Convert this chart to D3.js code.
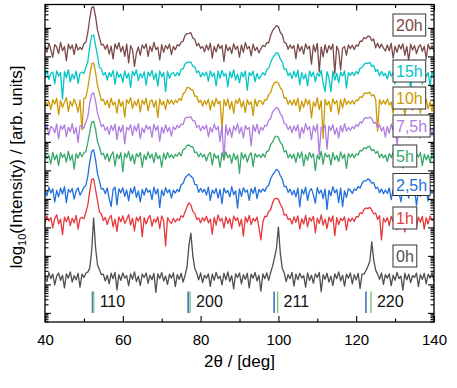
<!DOCTYPE html>
<html>
<head>
<meta charset="utf-8">
<script src="https://cdn.jsdelivr.net/npm/d3@7"></script>
<style>
body { margin: 0; background: #fff; }
text { font-family: Arial, "Liberation Sans", sans-serif; }
</style>
</head>
<body>
<div class="canvas"></div>
<script>
const w = 457, h = 388;
const margin = {top: 4.5, bottom: 66, left: 45, right: 23};

// 2theta grid, 0.5 deg step, 40..140
const twoTheta = d3.range(0, 201).map(i => 40 + i * 0.5);

// log10 intensity of each pattern (relative to its background)
const p0h = [
  0.08,-0.16,0.16,-0.06,0.10,-0.28,0.03,0.14,-0.12,0.06,-0.38,0.11,-0.04,0.18,-0.18,0.05,-0.10,0.13,-0.36,0.10,-0.02,0.14,
  0.17,0.31,0.92,2.07,1.02,0.43,0.25,0.08,0.10,
  -0.14,0.06,-0.24,0.13,-0.06,0.16,-0.45,0.08,-0.12,0.14,-0.04,0.05,-0.30,0.11,-0.08,0.18,-0.16,0.03,-0.30,0.10,-0.02,0.14,-0.22,0.06,-0.10,0.13,-0.54,0.11,-0.06,0.16,-0.14,0.03,-0.26,0.10,-0.04,0.14,-0.34,0.08,-0.08,0.13,-0.18,0.05,
  0.35,1.10,1.54,0.75,0.30,0.14,
  -0.10,0.14,-0.20,0.06,-0.04,0.11,-0.33,0.10,-0.12,0.16,-0.06,0.03,-0.28,0.13,-0.10,0.18,-0.16,0.05,-0.42,0.11,-0.02,0.14,-0.24,0.08,-0.08,0.13,-0.38,0.10,-0.04,0.16,-0.14,0.06,-0.50,0.11,-0.06,0.14,-0.12,
  0.15,0.38,0.67,1.00,1.75,0.82,0.30,0.14,
  -0.16,0.08,-0.06,0.16,-0.32,0.10,-0.10,0.13,-0.04,0.05,-0.36,0.14,-0.12,0.06,-0.22,0.11,-0.02,0.16,-0.52,0.08,-0.08,0.13,-0.18,0.03,-0.30,0.11,-0.06,0.18,-0.14,0.06,-0.32,0.10,-0.04,0.14,-0.24,0.08,-0.10,0.13,-0.40,0.10,
  0.10,0.22,0.37,0.55,1.23,0.60,0.24,0.10,
  -0.08,0.14,-0.26,0.08,-0.04,0.11,-0.30,0.06,-0.12,0.16,-0.06,0.03,-0.46,0.13,-0.10,0.10,-0.20,0.05,-0.02,0.14,-0.34,0.08,-0.08,0.13,-0.24,0.10,-0.04,0.16,-0.16
];
const p1h = [
  -0.12,0.14,-0.04,0.08,-0.28,0.05,0.18,-0.14,0.03,-0.52,0.10,-0.06,0.13,-0.20,0.06,-0.10,0.16,-0.32,0.05,
  0.09,0.04,0.27,0.52,1.00,1.42,1.44,1.06,0.68,0.28,0.21,-0.02,0.09,
  -0.16,0.06,0.16,-0.24,0.03,-0.40,0.11,-0.06,0.14,-0.12,0.02,0.19,-0.18,0.06,-0.38,0.10,-0.04,0.13,-0.59,0.08,-0.14,0.05,0.16,-0.22,0.03,-0.08,0.11,-0.30,0.14,-0.02,-0.91,0.08,-0.04,-0.12,
  0.06,-0.07,0.04,-0.02,0.15,0.10,0.28,0.46,0.60,0.53,0.30,0.23,0.02,0.07,-0.10,0.08,-0.04,
  0.13,-0.10,0.03,-0.50,0.10,-0.18,0.18,-0.04,0.06,-0.28,0.11,-0.12,0.05,-0.30,0.14,-0.02,0.08,-0.22,0.03,-0.57,0.11,-0.08,0.16,-0.16,0.05,-0.04,0.10,-0.26,
  -0.70,-0.07,0.13,0.12,0.30,0.36,0.60,0.74,0.76,0.73,0.55,0.44,0.17,0.20,0.02,0.05,-0.14,
  0.11,-0.08,0.14,-0.32,0.05,-0.14,0.16,-0.24,0.08,-0.04,0.13,-0.45,0.06,-0.12,0.18,-0.18,0.03,-0.30,0.10,-0.06,0.14,-0.55,0.08,-0.16,0.05,-0.02,0.11,-0.36,0.06,
  -0.05,0.07,-0.05,0.12,0.10,0.25,0.22,0.37,0.42,0.40,0.44,0.35,0.21,0.24,0.02,0.15,-0.70,0.06,-0.07,
  0.08,-0.20,0.13,-0.06,0.03,-0.34,0.14,-0.12,0.06,-0.42,0.11,-0.04,0.16,-0.18,0.05,-0.26,0.10,-0.08,0.13,-0.32,0.08,-0.14,0.14,-0.02,0.06
];
const p2_5h = [
  0.06,-0.14,0.16,-0.04,0.10,-0.36,0.05,-0.18,0.13,-0.08,0.18,-0.38,0.08,-0.02,0.11,-0.26,0.03,0.14,-0.12,
  0.01,0.16,0.22,0.54,1.04,1.41,1.47,1.12,0.63,0.37,0.09,0.11,-0.07,
  0.13,-0.24,-0.52,0.08,0.16,-0.46,0.10,-0.04,0.14,-0.16,0.06,-0.32,0.11,-0.06,0.18,-0.20,0.03,-0.36,0.08,-0.12,0.13,-0.02,0.05,-0.28,0.16,-0.08,0.10,-0.55,0.06,-0.14,0.14,-0.04,0.08,-0.22,
  0.06,-0.05,0.08,0.01,0.25,0.29,0.48,0.56,0.62,0.54,0.49,0.26,0.25,-0.02,0.12,-0.02,0.09,
  -0.12,0.16,-0.30,0.06,-0.06,0.11,-0.22,0.08,-0.42,0.13,-0.04,0.05,-0.18,0.18,-0.10,0.03,-0.57,0.10,-0.16,0.14,-0.02,0.06,-0.30,0.11,-0.06,0.16,-0.24,0.08,
  -0.02,0.10,0.01,0.17,0.23,0.45,0.59,0.68,0.79,0.74,0.56,0.44,0.18,0.19,-0.02,0.09,-0.11,
  0.05,-0.18,0.13,-0.53,0.08,-0.08,0.16,-0.30,0.03,0.11,-0.12,-0.40,0.14,-0.06,0.06,-0.24,0.10,-0.62,0.05,-0.14,0.18,-0.04,0.08,-0.38,0.13,-0.52,0.03,-0.20,0.11,
  0.05,-0.06,0.10,0.05,0.18,0.13,0.29,0.38,0.38,0.45,0.41,0.30,0.32,0.12,0.16,-0.04,0.10,-0.07,0.06,
  -0.06,0.13,-0.28,0.08,-0.12,0.16,-0.04,-0.35,0.11,-0.08,0.05,-0.22,0.14,-0.02,0.10,-0.48,0.06,-0.16,0.16,-0.10,0.03,-0.32,0.11,-0.06,0.08
];
const p5h = [
  0.11,-0.08,0.03,-0.26,0.14,-0.12,0.06,-0.32,0.13,-0.04,0.08,-0.20,0.18,-0.14,0.05,-0.45,0.10,-0.06,0.14,
  -0.01,0.13,0.17,0.48,0.84,1.20,1.23,0.95,0.51,0.33,0.06,0.11,-0.10,
  0.10,-0.18,0.05,0.16,-0.34,0.08,-0.08,0.13,-0.54,0.11,-0.04,0.18,-0.16,0.06,-0.26,0.10,-0.02,0.14,-0.38,0.05,-0.12,0.16,-0.06,0.08,-0.22,0.13,-0.08,0.03,-0.38,0.11,-0.10,0.14,-0.04,0.06,
  -0.06,0.07,0.01,0.13,0.02,0.24,0.27,0.39,0.40,0.34,0.34,0.14,0.15,-0.02,0.11,-0.02,0.07,
  -0.16,0.06,0.14,-0.30,0.10,-0.06,0.03,-0.39,0.13,-0.10,0.16,-0.04,0.06,-0.24,0.11,-0.12,0.05,-0.59,0.14,-0.08,0.08,-0.20,0.03,0.13,-0.36,0.10,-0.02,0.06,
  -0.04,0.09,-0.03,0.17,0.20,0.41,0.50,0.66,0.71,0.67,0.49,0.41,0.16,0.20,-0.05,0.07,-0.06,
  0.08,-0.22,0.13,-0.06,0.16,-0.33,0.06,-0.14,0.14,-0.04,0.10,-0.50,0.05,-0.10,0.18,-0.28,0.11,-0.02,0.06,-0.30,0.13,-0.12,0.03,-0.18,0.16,-0.08,0.08,-0.42,0.10,
  -0.03,0.09,-0.05,0.09,0.05,0.21,0.19,0.30,0.27,0.34,0.35,0.20,0.24,0.11,0.18,-0.04,0.08,-0.05,0.05,
  -0.18,0.10,-0.04,0.16,-0.32,0.06,-0.10,0.13,-0.40,0.11,-0.06,0.18,-0.16,0.03,-0.26,0.10,-0.02,0.14,-0.32,0.08,-0.12,0.05,-0.22,0.13,-0.08
];
const p7_5h = [
  -0.06,0.13,-0.22,0.08,0.03,-0.14,0.16,-0.36,0.10,-0.02,0.14,-0.28,0.06,-0.10,0.18,-0.18,0.05,-0.48,0.11,
  0.09,0.02,0.24,0.42,0.90,1.21,1.26,0.97,0.54,0.33,0.08,0.14,-0.06,
  0.06,-0.20,0.11,-0.06,0.16,-0.38,0.08,-0.12,0.13,-0.53,0.05,-0.04,0.14,-0.24,0.10,-0.08,0.18,-0.35,0.03,-0.14,0.13,-0.02,0.08,-0.30,0.16,-0.06,0.10,-0.44,0.06,-0.16,0.14,-0.10,0.05,-0.26,
  0.07,-0.03,0.12,0.04,0.16,0.15,0.37,0.40,0.40,0.42,0.28,0.28,0.05,0.12,-0.07,0.09,-0.02,
  0.13,-0.28,0.05,-0.12,0.16,-0.04,0.08,-0.45,0.11,-1.10,0.14,-0.22,0.03,-0.30,0.10,-0.06,0.18,-0.16,0.06,-0.32,0.11,-0.02,0.05,-0.60,0.13,-0.10,0.16,-0.18,
  0.05,-0.05,0.12,0.10,0.30,0.36,0.59,0.67,0.75,0.70,0.52,0.43,0.17,0.16,-0.03,0.09,-0.13,
  0.10,-0.08,0.14,-0.34,0.05,-0.16,0.18,-0.04,0.08,-0.39,0.11,-0.10,0.16,-0.91,0.06,-0.02,0.13,-0.72,0.10,-0.06,0.14,-0.20,0.03,-0.32,0.11,-0.12,0.18,-0.08,0.05,
  -0.06,0.07,0.00,0.15,0.09,0.24,0.20,0.35,0.39,0.37,0.41,0.35,0.19,0.23,0.03,0.14,-0.08,0.06,-0.29,
  0.08,-0.16,0.16,-0.06,0.06,-0.57,0.11,-0.12,0.14,-0.02,0.05,-0.30,0.13,-0.08,0.18,-0.20,0.03,-0.33,0.10,-0.10,0.14,-0.04,0.06,-0.24,0.11
];
const p10h = [
  0.14,-0.10,0.05,-0.24,0.11,-0.04,0.16,-0.42,0.08,-0.16,0.03,0.18,-0.30,0.06,-0.12,0.13,-0.06,-0.33,0.10,
  -0.95,0.16,0.18,0.52,0.96,1.37,1.40,1.07,0.60,0.35,0.08,0.12,-0.07,
  0.08,-0.18,0.16,-0.08,0.03,-0.36,0.13,-0.12,0.05,-0.50,0.11,-0.02,0.18,-0.20,0.06,-0.10,0.14,-0.32,0.10,-0.06,0.16,-0.28,0.03,0.11,-0.16,0.08,-0.52,0.14,-0.08,0.05,-0.24,0.13,-0.04,0.10,
  -0.05,0.09,0.01,0.15,0.08,0.31,0.38,0.53,0.54,0.46,0.45,0.23,0.23,0.02,0.09,-0.11,0.08,
  -0.06,0.13,-0.26,0.08,-0.12,0.16,-0.04,0.06,-0.91,0.11,-0.10,0.14,-0.22,0.05,-0.36,0.10,-0.02,0.16,-0.16,0.06,-0.34,0.11,-0.06,0.03,-0.45,0.13,-0.12,0.08,
  0.06,-0.06,0.11,0.10,0.30,0.36,0.58,0.71,0.73,0.70,0.52,0.44,0.17,0.17,-0.05,0.09,-0.09,
  0.11,-0.10,0.16,-0.30,0.06,-0.16,0.14,-0.06,0.10,-0.53,0.03,-0.12,0.18,-0.24,0.08,-1.25,0.13,-0.08,0.05,-0.32,0.14,-0.04,0.08,-0.40,0.11,-0.18,0.16,-0.06,0.06,
  -0.04,0.08,-0.04,0.10,0.08,0.21,0.19,0.32,0.35,0.33,0.37,0.24,0.29,0.12,-1.00,0.11,-0.05,0.09,-0.05,
  0.13,-0.08,0.03,-0.38,0.16,-0.12,0.08,-0.22,0.05,-0.46,0.11,-0.04,0.14,-0.26,0.06,-0.10,0.18,-0.36,0.10,-0.06,0.13,-0.20,0.03,-0.30,0.11
];
const p15h = [
  -0.08,0.16,-0.16,0.05,0.10,-0.32,0.14,-0.04,0.08,-0.85,0.11,-0.10,0.18,-0.24,0.03,-0.14,0.13,-0.30,0.06,
  0.10,0.05,0.25,0.46,1.00,1.37,1.40,1.03,0.67,0.26,0.21,-0.01,0.08,
  -0.18,0.08,-0.06,0.16,-0.33,0.11,-0.08,0.03,-0.26,0.14,-0.12,0.06,-0.45,0.13,-0.02,0.18,-0.20,0.05,-0.10,0.11,-0.36,0.10,-0.04,0.16,-0.16,0.06,-0.39,0.14,-0.06,0.08,-0.59,0.13,-0.12,0.05,
  0.08,-0.04,0.08,-0.02,0.20,0.21,0.38,0.44,0.45,0.45,0.30,0.28,0.07,0.14,-0.07,0.07,-0.03,
  0.10,-0.22,0.14,-0.06,0.06,-0.38,0.13,-0.12,0.16,-0.04,0.05,-0.42,0.11,-0.10,0.18,-0.18,0.03,-0.28,0.10,-0.08,0.14,-0.54,0.08,-0.02,0.13,-0.24,0.05,-0.14,
  -0.04,0.08,-0.01,0.18,0.23,0.43,0.60,0.69,0.78,0.74,0.55,0.45,0.19,0.21,-0.03,0.07,-0.13,
  0.13,-0.08,0.16,-0.34,0.08,-0.14,0.03,-0.39,0.14,-0.06,0.10,-0.24,0.06,-0.04,0.16,-0.30,-0.59,0.11,-0.10,-0.59,0.13,-0.18,0.05,-0.28,0.10,-0.04,0.14,-0.46,0.08,
  -0.02,0.09,-0.02,0.12,0.04,0.24,0.25,0.37,0.41,0.40,0.44,0.30,0.33,0.12,0.18,-0.03,0.12,-0.03,0.05,
  -0.14,0.14,-0.04,0.08,-0.32,0.13,-0.10,0.05,-0.24,0.16,-0.02,0.10,-0.51,0.11,-0.08,0.14,-0.18,0.03,-0.32,0.13,-0.06,0.08,-0.39,0.11,-0.12
];
const p20h = [
  0.08,-0.16,0.16,-0.06,-0.33,0.11,0.03,-0.20,0.19,-0.10,0.05,-0.45,0.13,-0.04,0.10,-0.24,0.14,-0.08,0.02,
  -0.06,0.15,0.19,0.53,1.03,1.41,1.44,1.10,0.62,0.36,0.10,0.12,-0.05,
  0.11,-0.22,0.06,-0.39,0.14,-0.04,0.18,-0.14,0.05,-0.30,0.13,-0.53,0.08,-0.08,-0.65,-0.18,0.03,-0.26,0.10,-0.02,0.14,-0.30,0.06,-0.12,0.19,-0.06,0.02,-0.42,0.11,-0.16,0.08,-0.04,0.13,-0.24,
  0.05,-0.07,0.11,0.07,0.19,0.23,0.43,0.50,0.51,0.53,0.34,0.30,0.07,0.15,-0.02,0.05,-0.14,
  0.10,-0.08,0.16,-0.36,0.05,-0.14,0.13,-0.02,0.08,-0.48,0.11,-0.10,0.03,-0.20,0.14,-0.06,0.06,-0.33,0.10,-0.16,0.18,-0.04,0.05,-0.28,0.13,-0.10,0.02,-0.18,
  -0.03,0.09,0.04,0.18,0.17,0.43,0.60,0.69,0.78,0.74,0.54,0.45,0.19,0.16,-0.05,0.10,-0.02,
  0.08,-0.38,0.13,-0.12,0.05,-0.22,0.14,-0.04,0.06,-0.57,0.10,-0.14,0.16,-0.85,0.03,-0.32,0.11,-0.18,0.08,-0.06,0.13,-0.91,0.06,-0.12,-0.78,-0.02,0.05,-0.26,0.10,
  -0.03,0.09,-0.06,0.10,0.06,0.23,0.23,0.36,0.32,0.41,0.40,0.25,0.31,0.00,0.16,-0.01,0.13,-0.01,-0.11,
  0.10,-0.10,0.16,-0.36,0.06,-0.16,0.11,-0.04,0.14,-0.26,0.05,-0.45,0.13,-0.08,0.08,-0.20,0.03,0.11,-0.12,0.06,-0.38,0.13,-0.06,0.08,-0.14
];

const labels  = ["0h", "1h", "2,5h", "5h", "7,5h", "10h", "15h", "20h"];
const patterns = [p0h, p1h, p2_5h, p5h, p7_5h, p10h, p15h, p20h];
// vertical stacking offsets, in decades
const offsets = [1.26, 3.26, 4.25, 5.49, 6.46, 7.37, 8.35, 9.30];
const colors  = ["#4f4f4f", "#e8383d", "#1f6fdc", "#37a86a", "#b07ddf", "#cc9a04", "#00c6c6", "#7a4a4a"];

// reference reflections
const hkl       = ["110", "200", "211", "220"];
const refBlue   = [52.2, 76.8, 98.9, 122.5];
const refGreen  = [52.5, 77.3, 99.8, 123.8];

const xTicks = [40, 60, 80, 100, 120, 140];

const x = d3.scaleLinear().domain([40, 140]).range([margin.left, w - margin.right]);
const y = d3.scaleLog().domain([Math.pow(10, -0.32), Math.pow(10, 10.82)]).range([h - margin.bottom, margin.top]);

const svg = d3.select(".canvas").append("svg")
  .attr("width", w).attr("height", h);

svg.append("clipPath").attr("id", "clip")
  .append("rect")
  .attr("x", x(40)).attr("y", y.range()[1])
  .attr("width", x(140) - x(40)).attr("height", y.range()[0] - y.range()[1]);

const plot = svg.append("g").attr("clip-path", "url(#clip)");

// draw 20h first so lower patterns sit on top
d3.range(labels.length - 1, -1, -1).forEach(k => {
  const line = d3.line()
    .x((d, i) => x(twoTheta[i]))
    .y(d => y(Math.pow(10, offsets[k] + d)));
  plot.append("path")
    .datum(patterns[k])
    .attr("fill", "none")
    .attr("stroke", colors[k])
    .attr("stroke-width", 1.3)
    .attr("stroke-linejoin", "round")
    .attr("d", line);
});

// reference marks
const yMarkTop = 291.5, yMarkBot = 313;
refBlue.forEach((v, i) => {
  svg.append("line").attr("x1", x(v)).attr("x2", x(v)).attr("y1", yMarkTop).attr("y2", yMarkBot)
    .attr("stroke", "#3f72c6").attr("stroke-width", 1.6);
  svg.append("line").attr("x1", x(refGreen[i])).attr("x2", x(refGreen[i])).attr("y1", yMarkTop).attr("y2", yMarkBot)
    .attr("stroke", "#86cc86").attr("stroke-width", 1.6);
  svg.append("text").attr("x", x(refGreen[i]) + 6).attr("y", 307)
    .style("font-size", "16px").attr("fill", "#111").text(hkl[i]);
});

// sample labels
const labelY = [256, 218, 184.5, 156, 126, 98, 71, 25];
labels.forEach((l, k) => {
  const g = svg.append("g");
  const t = g.append("text").attr("x", 396).attr("y", labelY[k] + 6)
    .style("font-size", "16px").attr("fill", colors[k]).text(l);
  const bb = t.node().getBBox();
  g.insert("rect", "text")
    .attr("x", 393).attr("y", labelY[k] - 11)
    .attr("width", bb.width + 6).attr("height", 22)
    .attr("fill", "#fff").attr("stroke", "#333").attr("stroke-width", 1);
});

// frame
svg.append("rect")
  .attr("x", x(40)).attr("y", y.range()[1])
  .attr("width", x(140) - x(40)).attr("height", y.range()[0] - y.range()[1])
  .attr("fill", "none").attr("stroke", "#000").attr("stroke-width", 1.3);

// x axes, ticks inward
const xMinor = d3.range(50, 140, 20);
const axB = svg.append("g").attr("transform", `translate(0,${y.range()[0]})`)
  .call(d3.axisBottom(x).tickValues(xTicks).tickSize(-6).tickPadding(12));
svg.append("g").attr("transform", `translate(0,${y.range()[0]})`)
  .call(d3.axisBottom(x).tickValues(xMinor).tickSize(-3.5).tickFormat(""));
svg.append("g").attr("transform", `translate(0,${y.range()[1]})`)
  .call(d3.axisTop(x).tickValues(xTicks).tickSize(-6).tickFormat(""));
svg.append("g").attr("transform", `translate(0,${y.range()[1]})`)
  .call(d3.axisTop(x).tickValues(xMinor).tickSize(-3.5).tickFormat(""));

// log y ticks
const yMajor = d3.range(0, 11).map(k => Math.pow(10, k));
const yMinor = [];
d3.range(-1, 11).forEach(k => d3.range(2, 10).forEach(m => {
  const v = m * Math.pow(10, k);
  if (v >= y.domain()[0] && v <= y.domain()[1]) yMinor.push(v);
}));
svg.append("g").attr("transform", `translate(${x(40)},0)`)
  .call(d3.axisLeft(y).tickValues(yMajor).tickSize(-6).tickFormat(""));
svg.append("g").attr("transform", `translate(${x(40)},0)`)
  .call(d3.axisLeft(y).tickValues(yMinor).tickSize(-3.5).tickFormat(""));
svg.append("g").attr("transform", `translate(${x(140)},0)`)
  .call(d3.axisRight(y).tickValues(yMajor).tickSize(-6).tickFormat(""));
svg.append("g").attr("transform", `translate(${x(140)},0)`)
  .call(d3.axisRight(y).tickValues(yMinor).tickSize(-3.5).tickFormat(""));

svg.selectAll(".domain").remove();
svg.selectAll(".tick line").attr("stroke", "#000").attr("stroke-width", 1.1);
axB.selectAll(".tick text").style("font-size", "15px").attr("fill", "#000")
  .style("font-family", "Arial, 'Liberation Sans', sans-serif");

// axis titles
svg.append("text")
  .attr("x", (x(40) + x(140)) / 2).attr("y", 367)
  .attr("text-anchor", "middle").style("font-size", "17px")
  .text("2θ / [deg]");

const yt = svg.append("text")
  .attr("transform", "translate(22,167) rotate(-90)")
  .attr("text-anchor", "middle").style("font-size", "17px");
yt.append("tspan").text("log");
yt.append("tspan").attr("dy", 4).style("font-size", "11px").text("10");
yt.append("tspan").attr("dy", -4).text("(Intensity) / [arb. units]");
</script>
</body>
</html>
